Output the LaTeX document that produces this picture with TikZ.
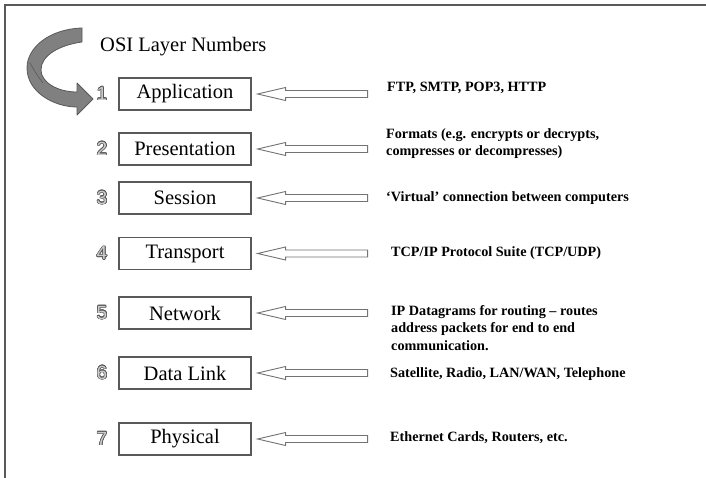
\documentclass[tikz,border=0pt]{standalone}
\usepackage{fontspec}
\setmainfont{Liberation Serif}
\newfontfamily\digitfont{Liberation Sans}
\usepackage{contour}
\contourlength{0.6pt}
\usetikzlibrary{calc}
\tikzset{
  layerbox/.style={draw=black!65, line width=1.1pt, minimum width=132pt, minimum height=32pt, inner sep=0pt, font=\fontsize{20.5}{24}\selectfont},
  desc/.style={anchor=west, inner sep=0pt, align=left, font=\fontsize{14.2}{17.5}\selectfont\bfseries},
  numlbl/.style={inner sep=0pt, font=\digitfont\fontsize{19}{22}\selectfont},
  harrow/.style={draw=black!55, line width=0.9pt, fill=white, line join=miter},
  frameline/.style={draw=black!65, line width=1.6pt}
}
\newcommand\holarrow[1]{%
  \draw[harrow] ([xshift=6pt]#1.east) -- ++(28,-6.5) -- ++(0,3) -- ++(82,0) -- ++(0,7) -- ++(-82,0) -- ++(0,3) -- cycle;}
\newcommand\outnum[1]{{\color{black!20}\contour{black!65}{#1}}}
\begin{document}
\begin{tikzpicture}[x=1pt,y=-1pt]
\useasboundingbox (0,0) rectangle (706,478);
\fill[white] (0,0) rectangle (706,478);
% frame
\coordinate (fA) at (5,478);
\coordinate (fB) at (5,5);
\coordinate (fC) at (706,5);
\draw[frameline] (fA) -- (fB) -- (fC);
% curved arrow
\draw[fill=black!50, draw=black!65, line width=0.8pt, line join=round]
  (82,28) .. controls (50,29) and (27,47) .. (27,68)
  .. controls (27,92) and (54,107) .. (77,107) -- (77,115) -- (93,99) -- (77,83) -- (77,92)
  .. controls (57,92) and (41,82) .. (41,70)
  .. controls (41,55) and (60,45) .. (82,42) -- cycle;
\draw[black!65, line width=0.6pt] (30,63) .. controls (35,72) and (39,78) .. (43,83);
\node[anchor=west, inner sep=0pt, font=\fontsize{20.5}{24}\selectfont] (title) at (100,47) {OSI Layer Numbers};
% boxes
\node[layerbox] (b1) at (185,94) {Application};
\node[layerbox] (b2) at (185,149) {Presentation};
\node[layerbox] (b3) at (185,198) {Session};
\node[layerbox] (b4) at (185,253.5) {Transport};
\node[layerbox] (b5) at (185,313) {Network};
\node[layerbox] (b6) at (185,373) {Data Link};
\node[layerbox] (b7) at (185,439) {Physical};
% numbers
\node[numlbl] (n1) at (102,94) {\outnum{1}};
\node[numlbl] (n2) at (102,149) {\outnum{2}};
\node[numlbl] (n3) at (102,198) {\outnum{3}};
\node[numlbl] (n4) at (102,253.5) {\outnum{4}};
\node[numlbl] (n5) at (102,313) {\outnum{5}};
\node[numlbl] (n6) at (102,373) {\outnum{6}};
\node[numlbl] (n7) at (102,439) {\outnum{7}};
% arrows
\holarrow{b1}
\holarrow{b2}
\holarrow{b3}
\holarrow{b4}
\holarrow{b5}
\holarrow{b6}
\holarrow{b7}
% descriptions
\node[desc] (d1) at (387,88) {FTP, SMTP, POP3, HTTP};
\node[desc] (d2) at (386,143.5) {Formats (e.g. encrypts or decrypts,\\compresses or decompresses)};
\node[desc] (d3) at (386,198) {`Virtual' connection between computers};
\node[desc] (d4) at (391,253) {TCP/IP Protocol Suite (TCP/UDP)};
\node[desc] (d5) at (391,328) {IP Datagrams for routing -- routes\\address packets for end to end\\communication.};
\node[desc] (d6) at (390,374) {Satellite, Radio, LAN/WAN, Telephone};
\node[desc] (d7) at (390,438) {Ethernet Cards, Routers, etc.};
\end{tikzpicture}
\end{document}
